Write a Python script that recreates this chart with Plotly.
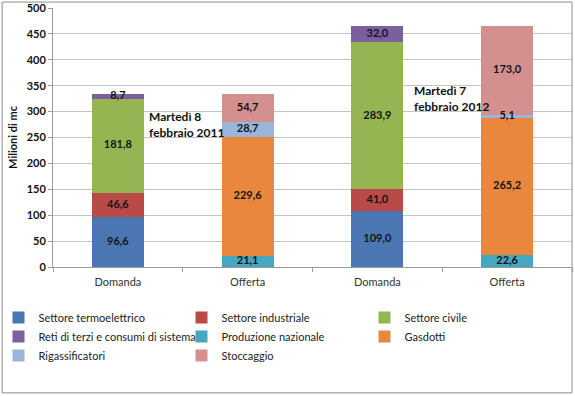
import plotly.graph_objects as go

categories = ["Domanda", "Offerta", "Domanda", "Offerta"]
x_pos = [0, 1, 2, 3]

series_names = [
    "Settore termoelettrico",
    "Settore industriale",
    "Settore civile",
    "Reti di terzi e consumi di sistema",
    "Produzione nazionale",
    "Gasdotti",
    "Rigassificatori",
    "Stoccaggio",
]
termoelettrico = [96.6, None, 109.0, None]
industriale = [46.6, None, 41.0, None]
civile = [181.8, None, 283.9, None]
reti_terzi = [8.7, None, 32.0, None]
produzione = [None, 21.1, None, 22.6]
gasdotti = [None, 229.6, None, 265.2]
rigassificatori = [None, 28.7, None, 5.1]
stoccaggio = [None, 54.7, None, 173.0]

series_values = [termoelettrico, industriale, civile, reti_terzi,
                 produzione, gasdotti, rigassificatori, stoccaggio]
colors = ["#4A76B4", "#BA4A47", "#94B552", "#7B5F9E",
          "#46A7C1", "#E8873D", "#9BB5DA", "#D4908F"]

FONT = "Lato"

fig = go.Figure()
for name, vals, col in zip(series_names, series_values, colors):
    fig.add_trace(go.Bar(
        x=x_pos, y=vals, name=name,
        marker=dict(color=col, line=dict(width=0)),
        width=0.4,
    ))

# value labels drawn above all bars, centred on each stacked segment
base = [0.0] * len(x_pos)
lx, ly, lv = [], [], []
for vals in series_values:
    for i, v in enumerate(vals):
        if v is None:
            continue
        lx.append(x_pos[i])
        ly.append(base[i] + v / 2)
        lv.append(v)
        base[i] += v
fig.add_trace(go.Scatter(
    x=lx, y=ly, customdata=lv, mode="text",
    texttemplate="%{customdata:.1f}", textposition="middle center",
    textfont=dict(family=FONT, size=11, color="#141414", weight="bold"),
    showlegend=False, hoverinfo="skip", cliponaxis=False,
))

fig.update_layout(
    width=575, height=396,
    barmode="stack",
    separators=",.",
    paper_bgcolor="white", plot_bgcolor="white",
    margin=dict(l=53, r=3, t=8, b=129, autoexpand=False),
    font=dict(family=FONT, size=11, color="#222"),
    showlegend=True,
    legend=dict(
        orientation="h", traceorder="normal",
        x=-0.105, xanchor="left", y=-0.139, yanchor="top",
        entrywidth=138, entrywidthmode="pixels",
        bgcolor="rgba(0,0,0,0)",
        font=dict(family=FONT, size=11, color="#222"),
        itemwidth=30, tracegroupgap=0,
    ),
    annotations=[
        dict(text="Martedì 8<br>febbraio 2011", xref="paper", yref="paper",
             x=0.181, y=0.55, xanchor="left", yanchor="middle", align="left",
             showarrow=False, font=dict(family=FONT, size=12, color="#111", weight="bold")),
        dict(text="Martedì 7<br>febbraio 2012", xref="paper", yref="paper",
             x=0.692, y=0.651, xanchor="left", yanchor="middle", align="left",
             showarrow=False, font=dict(family=FONT, size=12, color="#111", weight="bold")),
    ],
    shapes=[
        dict(type="rect", xref="paper", yref="paper",
             x0=-0.098, x1=1.0, y0=-0.486, y1=1.023,
             line=dict(color="#8c8c8c", width=1), fillcolor="rgba(0,0,0,0)", layer="above"),
    ],
)

fig.update_xaxes(
    range=[-0.5, 3.5], automargin=False,
    tickvals=x_pos, ticktext=categories,
    ticks="", showgrid=False, zeroline=False,
    showline=True, linecolor="#9a9a9a", linewidth=1,
    ticklabelstandoff=5,
    tickfont=dict(family=FONT, size=11, color="#333"),
    minor=dict(tickvals=[-0.5, 0.5, 1.5, 2.5, 3.5], ticks="outside", ticklen=4,
               tickcolor="#9a9a9a", showgrid=False),
)
fig.update_yaxes(
    range=[0, 500], dtick=50, automargin=False,
    showgrid=True, gridcolor="#c4c4c4", gridwidth=1,
    zeroline=False,
    showline=True, linecolor="#9a9a9a", linewidth=1,
    ticks="outside", ticklen=4, tickcolor="#9a9a9a",
    tickfont=dict(family=FONT, size=11, color="#111", weight="bold"),
    title=dict(text="Milioni di mc", font=dict(family=FONT, size=11, color="#111", weight="bold"),
               standoff=6),
)

fig.write_html(
    "out.html",
    config={"displayModeBar": False},
    post_script="document.body.style.margin='0';document.body.style.padding='0';",
)
